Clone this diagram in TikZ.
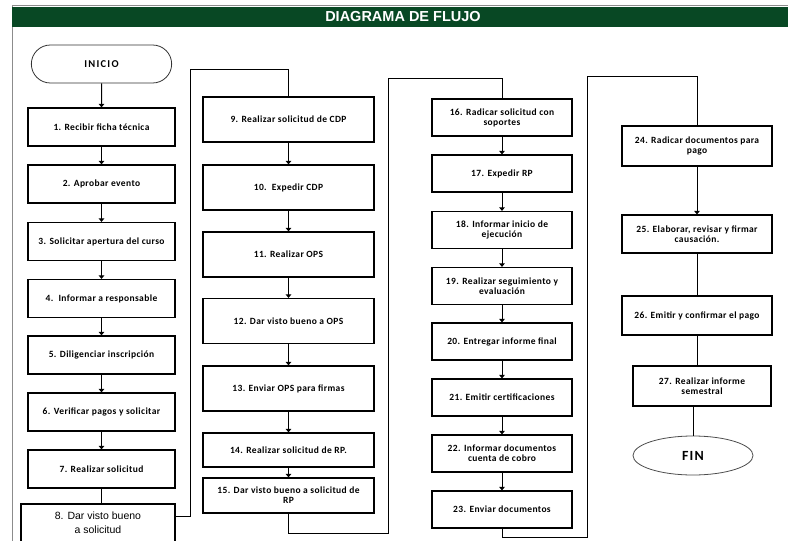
\documentclass[tikz,border=0pt]{standalone}
\usepackage{fontspec}
\setmainfont{Carlito}
\newfontfamily\cajafont{Carlito}[LetterSpace=4]
\newfontfamily\inicioafont{Carlito}[LetterSpace=12]
\newfontfamily\finfont{Carlito}[LetterSpace=8]
\newfontfamily\arialfont{Liberation Sans}
\usetikzlibrary{arrows.meta,shapes.misc,shapes.geometric}
\definecolor{verdetitulo}{RGB}{8,72,36}

\begin{document}
\begin{tikzpicture}[
  x=1pt,
  y=-1pt,
  font=\cajafont\bfseries\fontsize{9.5}{10}\selectfont,
  paso/.style={draw=black, line width=1.2pt, align=center, inner sep=1pt},
  pasouno/.style={paso, minimum width=147pt, minimum height=38pt},
  pasodos/.style={paso, minimum width=171pt, minimum height=45pt},
  pasotres/.style={paso, minimum width=140pt, minimum height=37pt},
  pasocuatro/.style={paso, minimum width=150pt, minimum height=39pt},
  flecha/.style={line width=1pt, -{Triangle[width=5.5pt,length=3.5pt]}},
  linea/.style={line width=1pt},
]
  \useasboundingbox (0,0) rectangle (788,541);
  \clip (0,0) rectangle (788,541);

  % marco y titulo
  \draw[black!45, line width=0.8pt] (12,5) rectangle (800,600);
  \fill[verdetitulo] (12,7) rectangle (790,27);
  \node[text=white, font=\arialfont\bfseries\fontsize{14.5}{16}\selectfont] (titulo) at (403,17) {DIAGRAMA DE FLUJO};

  % columna 1
  \node[rounded rectangle, draw=black!80, line width=0.8pt, minimum width=147pt, minimum height=38pt,
        font=\inicioafont\bfseries\fontsize{10.5}{12}\selectfont] (inicio) at (101.5,64) {INICIO};
  \node[pasouno] (p1) at (101.5,127) {1. Recibir ficha técnica};
  \node[pasouno] (p2) at (101.5,184) {2. Aprobar evento};
  \node[pasouno] (p3) at (101.5,241.5) {3. Solicitar apertura del curso};
  \node[pasouno] (p4) at (101.5,298.5) {4.\ \ Informar a responsable};
  \node[pasouno] (p5) at (101.5,355) {5. Diligenciar inscripción};
  \node[pasouno] (p6) at (101.5,412) {6. Verificar pagos y solicitar};
  \node[pasouno] (p7) at (101.5,469) {7. Realizar solicitud};
  \node[paso, minimum width=154pt, minimum height=38pt,
        font=\arialfont\fontsize{10.5}{14}\selectfont] (p8) at (98,523) {8. Dar visto bueno\\a solicitud};

  % columna 2
  \node[pasodos] (p9) at (288.5,119.5) {9. Realizar solicitud de CDP};
  \node[pasodos] (p10) at (288.5,187.5) {10.\ \ Expedir CDP};
  \node[pasodos] (p11) at (288.5,254.5) {11. Realizar OPS};
  \node[pasodos] (p12) at (288.5,321) {12. Dar visto bueno a OPS};
  \node[pasodos] (p13) at (288.5,388.5) {13. Enviar OPS para firmas};
  \node[pasodos, minimum height=34pt] (p14) at (288.5,450) {14. Realizar solicitud de RP.};
  \node[pasodos, minimum height=35pt] (p15) at (288.5,495.5) {15. Dar visto bueno a solicitud de\\RP};

  % columna 3
  \node[pasotres] (p16) at (502,117.5) {16. Radicar solicitud con\\soportes};
  \node[pasotres] (p17) at (502,173.5) {17. Expedir RP};
  \node[pasotres] (p18) at (502,230) {18. Informar inicio de\\ejecución};
  \node[pasotres] (p19) at (502,286) {19. Realizar seguimiento y\\evaluación};
  \node[pasotres] (p20) at (502,341.5) {20. Entregar informe final};
  \node[pasotres] (p21) at (502,397.5) {21. Emitir certificaciones};
  \node[pasotres] (p22) at (502,453.5) {22. Informar documentos\\cuenta de cobro};
  \node[pasotres] (p23) at (502,509.5) {23. Enviar documentos};

  % columna 4
  \node[pasocuatro, minimum height=40pt] (p24) at (697,146) {24. Radicar documentos para\\pago};
  \node[pasocuatro, minimum height=38pt] (p25) at (697,234) {25. Elaborar, revisar y firmar\\causación.};
  \node[pasocuatro] (p26) at (697,315.5) {26. Emitir y confirmar el pago};
  \node[paso, minimum width=138pt, minimum height=40pt] (p27) at (702,386) {27. Realizar informe\\semestral};
  \node[ellipse, draw=black!70, line width=0.8pt, minimum width=120pt, minimum height=39pt,
        font=\finfont\bfseries\fontsize{14}{16}\selectfont] (fin) at (693,455.5) {FIN};

  % codos entre columnas
  \coordinate (codo1) at (190,69);
  \coordinate (codo2) at (388,533);
  \coordinate (codo3) at (388,78);
  \coordinate (codo4) at (587,537);
  \coordinate (codo5) at (587,76);

  % conectores
  \draw[flecha] (inicio) -- (p1);
  \foreach \a/\b in {1/2,2/3,3/4,4/5,5/6,6/7,9/10,10/11,11/12,12/13,13/14,14/15,
                     16/17,17/18,18/19,19/20,20/21,21/22,22/23,24/25}
    \draw[flecha] (p\a) -- (p\b);
  \draw[linea] (p7.south) -- (p7.south |- p8.north);
  \draw[linea] ([yshift=7pt]p8.east) -| (codo1) -| (p9.north);
  \draw[linea] (p15.south) |- (codo2) -- (codo3) -| (p16.north);
  \draw[linea] (p23.south) |- (codo4) -- (codo5) -| (p24.north);
  \draw[linea] (p25) -- (p26);
  \draw[linea] (p26.south) -- (p26.south |- p27.north);
  \draw[linea] (fin.north |- p27.south) -- (fin.north);
\end{tikzpicture}
\end{document}
